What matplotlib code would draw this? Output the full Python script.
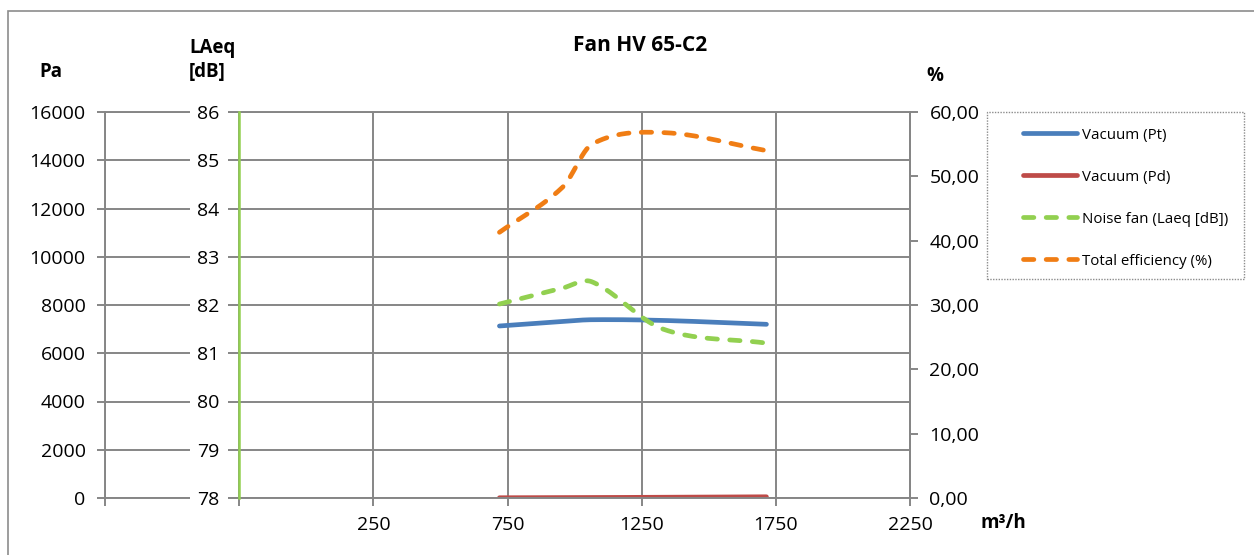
import matplotlib.pyplot as plt
import numpy as np
from matplotlib.ticker import FuncFormatter
from matplotlib.patches import Rectangle
from matplotlib.lines import Line2D

plt.rcParams['font.family'] = ['Open Sans', 'DejaVu Sans']

# data (flow in m3/h)
flow = [720, 955, 1065, 1330, 1715]
vacuum_pt = [7130, 7320, 7390, 7360, 7200]
vacuum_pd = [10, 15, 20, 30, 50]
noise_fan = [82.02, 82.35, 82.48, 81.5, 81.21]
total_eff = [41.3, 48.3, 55.0, 56.8, 54.0]

series_labels = ['Vacuum (Pt)', 'Vacuum (Pd)', 'Noise fan (Laeq [dB])', 'Total efficiency (%)']
pa_ticks = np.arange(0, 16001, 2000)
db_ticks = np.arange(78, 87, 1)
pct_ticks = np.arange(0, 61, 10)
flow_ticks = np.arange(-750, 2251, 500)


def smooth(xs, ys, n=40):
    # cubic hermite through the points (smoothed line look)
    xs = np.asarray(xs, float)
    ys = np.asarray(ys, float)
    m = np.gradient(ys, xs, edge_order=1)
    m[1:-1] = (ys[2:] - ys[:-2]) / (xs[2:] - xs[:-2])
    outx, outy = [], []
    t = np.linspace(0, 1, n)
    for i in range(len(xs) - 1):
        h = xs[i + 1] - xs[i]
        h00 = 2 * t ** 3 - 3 * t ** 2 + 1
        h10 = t ** 3 - 2 * t ** 2 + t
        h01 = -2 * t ** 3 + 3 * t ** 2
        h11 = t ** 3 - t ** 2
        outx.extend(xs[i] + t * h)
        outy.extend(h00 * ys[i] + h10 * h * m[i] + h01 * ys[i + 1] + h11 * h * m[i + 1])
    return outx, outy


W, H = 1254, 555
grey = '#868686'
blue = '#4a7ebb'
red = '#be4b48'
green = '#92d050'
orange = '#f07d14'
tick_fs = 14

fig = plt.figure(figsize=(W / 100, H / 100), dpi=100)
ax = fig.add_axes([105 / W, 1 - 498 / H, 805 / W, 386 / H])

# outer chart border
fig.add_artist(Rectangle((8 / W, -0.1), 1.2, 1 - 11 / H + 0.1, transform=fig.transFigure,
                         fill=False, ec='#8c8c8c', lw=1.2))

ax.set_xlim(-750, 2250)
ax.set_ylim(0, 16000)
ax.set_xticks(flow_ticks)
ax.set_yticks(pa_ticks)
ax.xaxis.set_major_formatter(FuncFormatter(lambda v, p: '' if v < 0 else f'{v:.0f}'))
ax.grid(color=grey, lw=1.4)
for s in ax.spines.values():
    s.set_color(grey)
    s.set_linewidth(1.4)
ax.tick_params(direction='out', length=6, width=1.4, color=grey, labelsize=tick_fs, pad=8)
ax.tick_params(axis='x', pad=7)

ax3 = ax.twinx()
ax3.set_ylim(0, 60)
ax3.set_yticks(pct_ticks)
ax3.yaxis.set_major_formatter(FuncFormatter(lambda v, p: f'{v:.2f}'.replace('.', ',')))
ax3.tick_params(direction='out', length=6, width=1.4, color=grey, labelsize=tick_fs, pad=8)
for s in ax3.spines.values():
    s.set_visible(False)
ax3.spines['right'].set_visible(True)
ax3.spines['right'].set_color(grey)
ax3.spines['right'].set_linewidth(1.4)

ax2 = ax.twinx()
ax2.set_ylim(78, 86)
ax2.set_yticks(db_ticks)
for s in ax2.spines.values():
    s.set_visible(False)
ax2.spines['left'].set_visible(True)
ax2.spines['left'].set_position(('data', -250))
ax2.spines['left'].set_color(green)
ax2.spines['left'].set_linewidth(1.8)
ax2.yaxis.set_ticks_position('left')
ax2.tick_params(length=0, labelsize=tick_fs, pad=14)
for lab in ax2.get_yticklabels():
    lab.set_bbox(dict(boxstyle='square,pad=0.4', fc='white', ec='none'))

lw = 3.4
dash = (0, (2.2, 2.6))
x, y = smooth(flow, vacuum_pt)
ax.plot(x, y, color=blue, lw=lw, solid_capstyle='round')
x, y = smooth(flow, vacuum_pd)
ax.plot(x, y, color=red, lw=lw, solid_capstyle='round')
x, y = smooth(flow, noise_fan)
ax2.plot(x, y, color=green, lw=lw, ls=dash, dash_capstyle='round')
x, y = smooth(flow, total_eff)
ax3.plot(x, y, color=orange, lw=lw, ls=dash, dash_capstyle='round')

# legend with its own dotted frame
handles = [Line2D([], [], color=blue, lw=lw, solid_capstyle='round'),
           Line2D([], [], color=red, lw=lw, solid_capstyle='round'),
           Line2D([], [], color=green, lw=lw, ls=dash, dash_capstyle='round'),
           Line2D([], [], color=orange, lw=lw, ls=dash, dash_capstyle='round')]
fig.legend(handles, series_labels, loc='upper left', bbox_to_anchor=(1012 / W, 1 - 117 / H),
           frameon=False, fontsize=10.8, handlelength=3.6, handletextpad=0.35,
           labelspacing=1.8, borderpad=0.2)
fig.add_artist(Rectangle((987 / W, 1 - 279 / H), 257 / W, 167 / H, transform=fig.transFigure,
                         fill=False, ec='#8c8c8c', lw=1.0, ls=(0, (1, 1))))

fig.text(640 / W, 1 - 45 / H, 'Fan HV 65-C2', ha='center', va='center',
         fontweight='bold', fontsize=15)
fig.text(51 / W, 1 - 72 / H, 'Pa', ha='center', va='center', fontweight='bold', fontsize=13.5)
fig.text(189 / W, 1 - 60 / H, 'LAeq\n[dB]', ha='left', va='center', fontweight='bold',
         fontsize=13.5, linespacing=1.25)
fig.text(935 / W, 1 - 76 / H, '%', ha='center', va='center', fontweight='bold', fontsize=13.5)
fig.text(1003 / W, 1 - 523 / H, 'm³/h', ha='center', va='center', fontweight='bold', fontsize=13.5)

fig.savefig('out.png', dpi=100)
